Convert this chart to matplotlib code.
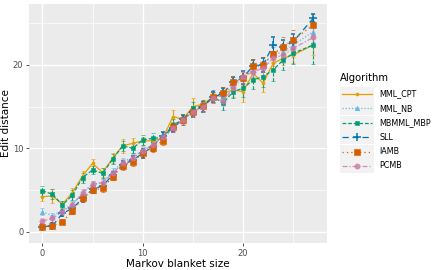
import numpy as np
import matplotlib
matplotlib.use("Agg")
from matplotlib import pyplot as plt
from matplotlib.lines import Line2D
from matplotlib.patches import Rectangle

# Markov blanket sizes (no runs with size 26)
sizes = list(range(26)) + [27]

mml_cpt = [4.2, 4.3, 3.3, 4.7, 6.7, 8.2, 7.1, 8.8, 10.3, 10.6, 10.9, 10.9, 11.2, 13.8, 13.5,
           15.0, 15.3, 16.1, 16.6, 17.0, 16.8, 19.0, 17.8, 20.2, 20.8, 21.2, 22.4]
mml_nb = [2.4, 1.9, 2.6, 3.3, 4.6, 5.7, 5.9, 7.2, 8.4, 8.9, 9.8, 10.4, 11.5, 12.5, 13.5,
          14.4, 15.1, 16.1, 16.3, 17.6, 18.6, 19.4, 20.2, 21.2, 21.6, 22.4, 24.0]
mbmml_mbp = [4.9, 4.5, 3.2, 4.4, 6.5, 7.4, 7.0, 8.7, 10.3, 10.0, 11.0, 11.2, 11.3, 12.8, 13.4,
             14.8, 15.1, 16.2, 15.4, 16.8, 17.2, 18.2, 18.6, 19.4, 20.6, 21.4, 22.4]
sll = [0.6, 0.7, 2.2, 2.8, 4.0, 5.1, 5.5, 6.8, 8.0, 8.6, 9.4, 10.2, 11.5, 12.4, 13.5,
       14.4, 15.0, 16.1, 16.6, 17.9, 18.5, 19.9, 20.0, 22.4, 22.1, 22.8, 25.6]
iamb = [0.6, 0.7, 1.2, 2.5, 4.0, 5.0, 5.2, 6.6, 7.9, 8.4, 9.4, 10.1, 10.9, 12.6, 13.4,
        14.4, 15.1, 16.1, 16.6, 17.9, 18.4, 19.9, 20.0, 21.3, 22.2, 23.0, 24.8]
pcmb = [1.3, 1.6, 2.4, 3.2, 4.7, 5.7, 5.9, 7.0, 8.2, 8.8, 9.7, 10.4, 11.4, 12.4, 13.4,
        14.4, 14.9, 16.0, 15.7, 17.2, 18.6, 19.2, 19.6, 20.8, 21.2, 22.0, 23.3]

# standard errors (half error-bar lengths)
err_cpt = [0.5, 0.8, 0.4, 0.5, 0.6, 0.5, 0.5, 0.6, 0.8, 0.6, 0.5, 0.5, 0.5, 0.8, 0.5,
           1.0, 0.5, 0.6, 0.6, 0.8, 1.3, 0.7, 1.0, 0.8, 0.8, 1.0, 1.2]
err_nb = [0.4, 0.4, 0.4, 0.4, 0.4, 0.4, 0.4, 0.4, 0.5, 0.5, 0.5, 0.5, 0.5, 0.5, 0.5,
          0.6, 0.6, 0.6, 0.7, 0.7, 0.8, 0.8, 0.8, 0.9, 0.9, 1.0, 1.2]
err_mbp = [0.6, 0.6, 0.5, 0.6, 0.6, 0.5, 0.6, 0.6, 0.6, 0.6, 0.6, 0.6, 0.6, 0.7, 0.6,
           0.7, 0.7, 0.8, 0.8, 0.8, 1.0, 1.1, 1.3, 1.3, 1.2, 1.3, 2.3]
err_sll = [0.3, 0.3, 0.3, 0.3, 0.4, 0.4, 0.4, 0.4, 0.5, 0.5, 0.5, 0.5, 0.5, 0.5, 0.5,
           0.6, 0.6, 0.6, 0.6, 0.7, 0.8, 0.7, 0.8, 0.9, 0.9, 0.9, 0.5]
err_iamb = [0.3, 0.3, 0.3, 0.4, 0.4, 0.4, 0.4, 0.4, 0.5, 0.5, 0.5, 0.5, 0.5, 0.5, 0.6,
            0.6, 0.6, 0.6, 0.7, 0.7, 0.8, 0.8, 0.9, 1.1, 1.2, 1.2, 1.3]
err_pcmb = [0.4, 0.4, 0.4, 0.4, 0.4, 0.4, 0.4, 0.4, 0.5, 0.5, 0.5, 0.5, 0.5, 0.5, 0.5,
            0.6, 0.6, 0.6, 0.6, 0.7, 0.8, 0.8, 0.9, 0.9, 1.0, 1.1, 1.2]

algorithms = ["MML_CPT", "MML_NB", "MBMML_MBP", "SLL", "IAMB", "PCMB"]
series = [mml_cpt, mml_nb, mbmml_mbp, sll, iamb, pcmb]
errors = [err_cpt, err_nb, err_mbp, err_sll, err_iamb, err_pcmb]

colors = ["#E69F00", "#56B4E9", "#009E73", "#0072B2", "#D55E00", "#CC79A7"]
markers = ["o", "^", "s", "+", "s", "o"]
msizes = [2.2, 3.2, 3.2, 5.5, 3.8, 3.8]
styles = ["-", (0, (1, 1.5)), (0, (3, 1.5)), (0, (5, 3)), (0, (1, 2.5)), (0, (4, 1.5, 1, 1.5))]
alphas = [1, 0.9, 1, 1, 1, 0.8]

fig = plt.figure(figsize=(4.37, 2.70), dpi=100)
ax = fig.add_axes([0.066, 0.1, 0.682, 0.885])
ax.set_facecolor("#EBEBEB")
for s in ax.spines.values():
    s.set_visible(False)

for name, ys, es, c, m, ms, ls, a in zip(algorithms, series, errors, colors, markers, msizes, styles, alphas):
    eb = ax.errorbar(sizes, ys, yerr=es, color=c, marker=m, markersize=ms, linestyle=ls,
                     linewidth=0.9, elinewidth=0.8, capsize=1.2, capthick=0.8,
                     markeredgewidth=1.1 if m == "+" else 0.4, alpha=a, zorder=3)
    for lc in eb[2]:
        lc.set_linestyle(ls)

ax.set_xlim(-1.35, 28.35)
ax.set_ylim(-1.35, 27.3)
ax.set_xticks([0, 10, 20])
ax.set_yticks([0, 10, 20])
ax.set_xticks([5, 15, 25], minor=True)
ax.set_yticks([5, 15, 25], minor=True)
ax.grid(which="major", color="white", linewidth=1.0, zorder=0)
ax.grid(which="minor", color="white", linewidth=0.5, zorder=0)
ax.set_axisbelow(True)
ax.tick_params(which="major", length=2.5, width=0.6, color="#333333", labelsize=6,
               labelcolor="#4D4D4D", pad=1.5)
ax.tick_params(which="minor", length=0)
ax.set_xlabel("Markov blanket size", fontsize=7.5, labelpad=1)
ax.set_ylabel("Edit distance", fontsize=7.5, labelpad=1)

# legend drawn in ggplot style
lax = fig.add_axes([0.777, 0.3, 0.223, 0.5])
lax.set_xlim(0, 0.223 * 437)
lax.set_ylim(135, 0)
lax.axis("off")
lax.text(0, 24, "Algorithm", fontsize=7.2, va="center", ha="left")
for i, (name, c, m, ms, ls, a) in enumerate(zip(algorithms, colors, markers, msizes, styles, alphas)):
    yc = 40 + i * 14.4
    lax.add_patch(Rectangle((0, yc - 7), 34, 14, facecolor="#F2F2F2", edgecolor="none"))
    lax.add_line(Line2D([2, 32], [yc, yc], color=c, linestyle=ls, linewidth=0.9, alpha=a))
    lax.add_line(Line2D([17], [yc], color=c, marker=m, markersize=ms, linestyle="none", alpha=a,
                        markeredgewidth=1.1 if m == "+" else 0.4))
    lax.text(40, yc, name, fontsize=5.8, va="center", ha="left")

fig.savefig("out.png", dpi=100)
